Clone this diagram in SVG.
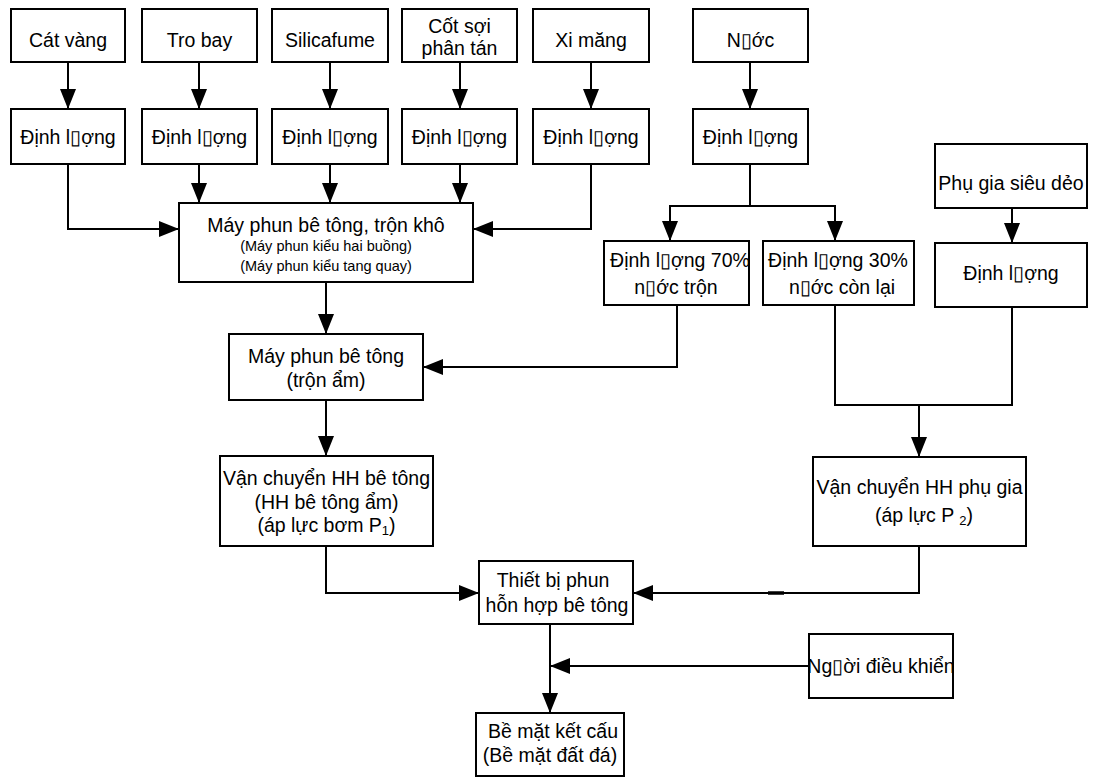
<svg xmlns="http://www.w3.org/2000/svg" width="1094" height="782" viewBox="0 0 1094 782">
<style>
  rect.box { fill: #ffffff; stroke: #000000; stroke-width: 2; }
  text { font-family: "Liberation Sans", Arial, sans-serif; font-size: 19.5px; fill: #000000; text-anchor: middle; }
  text.small { font-size: 14.5px; }
  .sub { font-size: 13px; }
  #connectors path { fill: none; stroke: #000000; stroke-width: 2; }
</style>
<defs>
  <marker id="arrow" markerUnits="userSpaceOnUse" markerWidth="20" markerHeight="16" refX="20" refY="8" orient="auto" viewBox="0 0 20 16">
    <path d="M0,0 L20,8 L0,16 Z" fill="#000000"/>
  </marker>
</defs>
<rect width="1094" height="782" fill="#ffffff"/>

<g id="connectors">
  <path d="M68,62 V109" marker-end="url(#arrow)"/>
  <path d="M199,62 V109" marker-end="url(#arrow)"/>
  <path d="M330,62 V109" marker-end="url(#arrow)"/>
  <path d="M460,62 V109" marker-end="url(#arrow)"/>
  <path d="M591,62 V109" marker-end="url(#arrow)"/>
  <path d="M750,62 V109" marker-end="url(#arrow)"/>
  <path d="M68,164 V229 H179" marker-end="url(#arrow)"/>
  <path d="M199,164 V203" marker-end="url(#arrow)"/>
  <path d="M330,164 V203" marker-end="url(#arrow)"/>
  <path d="M460,164 V203" marker-end="url(#arrow)"/>
  <path d="M591,164 V229 H473" marker-end="url(#arrow)"/>
  <path d="M750,164 V206"/>
  <path d="M750,206 H670 V241" marker-end="url(#arrow)"/>
  <path d="M750,206 H835 V241" marker-end="url(#arrow)"/>
  <path d="M1012,208 V243" marker-end="url(#arrow)"/>
  <path d="M326,282 V334" marker-end="url(#arrow)"/>
  <path d="M677,305 V367 H423" marker-end="url(#arrow)"/>
  <path d="M835,305 V405 H1012 V307"/>
  <path d="M919,405 V457" marker-end="url(#arrow)"/>
  <path d="M326,400 V456" marker-end="url(#arrow)"/>
  <path d="M326,546 V593 H479" marker-end="url(#arrow)"/>
  <path d="M919,546 V593 H633" marker-end="url(#arrow)"/>
  <path d="M768,593 H784" style="stroke-width:3.5"/>
  <path d="M550,624 V713" marker-end="url(#arrow)"/>
  <path d="M809,666 H550" marker-end="url(#arrow)"/>
</g>

<g id="cat-vang"><rect class="box" x="11" y="9" width="114" height="53"/><text x="68" y="46.5">Cát vàng</text></g>
<g id="tro-bay"><rect class="box" x="142" y="9" width="115" height="53"/><text x="199.5" y="46.5">Tro bay</text></g>
<g id="silicafume"><rect class="box" x="272" y="9" width="116" height="53"/><text x="330" y="46.5">Silicafume</text></g>
<g id="cot-soi"><rect class="box" x="402" y="9" width="115" height="53"/><text x="459.5" y="33">Cốt sợi</text><text x="459.5" y="55">phân tán</text></g>
<g id="xi-mang"><rect class="box" x="533" y="9" width="116" height="53"/><text x="591" y="46.5">Xi măng</text></g>
<g id="nuoc"><rect class="box" x="693" y="9" width="115" height="53"/><text x="750.5" y="46.5">N▯ớc</text></g>

<g id="dl-cat"><rect class="box" x="11" y="109" width="114" height="55"/><text x="68" y="143.5">Định l▯ợng</text></g>
<g id="dl-tro"><rect class="box" x="142" y="109" width="115" height="55"/><text x="199.5" y="143.5">Định l▯ợng</text></g>
<g id="dl-silica"><rect class="box" x="272" y="109" width="116" height="55"/><text x="330" y="143.5">Định l▯ợng</text></g>
<g id="dl-cot"><rect class="box" x="402" y="109" width="115" height="55"/><text x="459.5" y="143.5">Định l▯ợng</text></g>
<g id="dl-xi"><rect class="box" x="533" y="109" width="116" height="55"/><text x="591" y="143.5">Định l▯ợng</text></g>
<g id="dl-nuoc"><rect class="box" x="693" y="109" width="115" height="55"/><text x="750.5" y="143.5">Định l▯ợng</text></g>

<g id="may-phun-kho"><rect class="box" x="179" y="203" width="294" height="79"/>
  <text x="326" y="232">Máy phun bê tông, trộn khô</text>
  <text class="small" x="326" y="250.5">(Máy phun kiểu hai buồng)</text>
  <text class="small" x="326" y="270.5">(Máy phun kiểu tang quay)</text>
</g>

<g id="dl-70"><rect class="box" x="604" y="241" width="145" height="64"/>
  <text x="680" y="267">Định l▯ợng 70%</text><text x="676" y="294">n▯ớc trộn</text></g>
<g id="dl-30"><rect class="box" x="763" y="241" width="151" height="64"/>
  <text x="838" y="267">Định l▯ợng 30%</text><text x="842" y="294">n▯ớc còn lại</text></g>
<g id="phu-gia"><rect class="box" x="935" y="144" width="152" height="64"/><text x="1011" y="190">Phụ gia siêu dẻo</text></g>
<g id="dl-phu-gia"><rect class="box" x="935" y="243" width="152" height="64"/><text x="1011" y="280">Định l▯ợng</text></g>

<g id="may-phun-am"><rect class="box" x="229" y="334" width="194" height="66"/>
  <text x="326" y="363">Máy phun bê tông</text><text x="326" y="387">(trộn ẩm)</text></g>

<g id="vc-be-tong"><rect class="box" x="220" y="456" width="213" height="90"/>
  <text x="326.5" y="485">Vận chuyển HH bê tông</text>
  <text x="326.5" y="508.5">(HH bê tông ẩm)</text>
  <text x="326.5" y="532">(áp lực bơm P<tspan class="sub" dy="3">1</tspan><tspan dy="-3">)</tspan></text>
</g>
<g id="vc-phu-gia"><rect class="box" x="813" y="457" width="213" height="89"/>
  <text x="919.5" y="494">Vận chuyển HH phụ gia</text>
  <text x="924" y="522">(áp lực P <tspan class="sub" dy="3">2</tspan><tspan dy="-3">)</tspan></text>
</g>

<g id="thiet-bi-phun"><rect class="box" x="479" y="561" width="154" height="63"/>
  <text x="553" y="587">Thiết bị phun</text><text x="557" y="612">hỗn hợp bê tông</text></g>
<g id="nguoi-dieu-khien"><rect class="box" x="809" y="634" width="144" height="64"/><text x="881" y="673">Ng▯ời điều khiển</text></g>
<g id="be-mat"><rect class="box" x="476" y="713" width="148" height="63"/>
  <text x="553" y="738">Bề mặt kết cấu</text><text x="550" y="762">(Bề mặt đất đá)</text></g>
</svg>
